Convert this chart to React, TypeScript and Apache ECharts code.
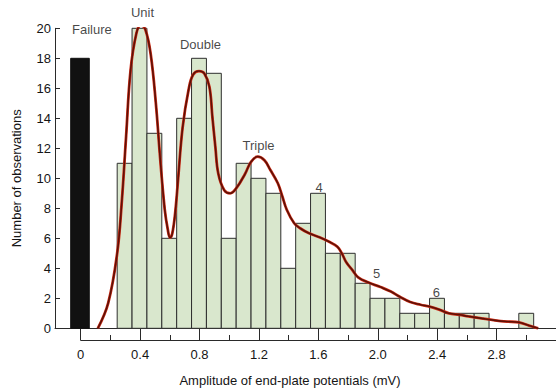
import React, { useEffect, useRef } from "react";
import * as echarts from "echarts";

// Histogram bins (centre of each 0.1 mV bin) and counts
const BIN_CENTERS = [
  0.3, 0.4, 0.5, 0.6, 0.7, 0.8, 0.9, 1.0, 1.1, 1.2, 1.3, 1.4, 1.5, 1.6,
  1.7, 1.8, 1.9, 2.0, 2.1, 2.2, 2.3, 2.4, 2.5, 2.6, 2.7, 2.8, 2.9, 3.0,
];
const BIN_COUNTS = [
  11, 20, 13, 6, 14, 18, 17, 6, 11, 10, 9, 4, 7, 9,
  5, 5, 3, 2, 2, 1, 1, 2, 1, 1, 1, 0, 0, 1,
];
const BIN_WIDTH = 0.1;

// Failures (no response)
const FAILURE_X = [0];
const FAILURE_COUNT = [18];
const FAILURE_WIDTH = 0.125;

// Fitted curve
const CURVE_X = [
  0.12, 0.19, 0.25, 0.28, 0.31, 0.34, 0.38, 0.41, 0.44, 0.475, 0.51, 0.54,
  0.57, 0.59, 0.605, 0.62, 0.64, 0.66, 0.69, 0.73, 0.76, 0.8, 0.835, 0.87, 0.89,
  0.91, 0.93, 0.97, 1.01, 1.05, 1.11, 1.15, 1.195, 1.24, 1.28, 1.33, 1.36,
  1.39, 1.44, 1.48, 1.54, 1.61, 1.675, 1.73, 1.76, 1.79, 1.83, 1.87, 1.94,
  2.02, 2.09, 2.15, 2.22, 2.29, 2.35, 2.42, 2.48, 2.55, 2.61, 2.7, 2.79,
  2.87, 2.95, 3.02, 3.08,
];
const CURVE_Y = [
  0, 1.7, 5.0, 8.3, 12.8, 17.2, 19.7, 20.2, 19.9, 18.3, 15.0, 11.2,
  7.9, 6.6, 6.05, 6.3, 7.7, 10.0, 13.4, 15.9, 16.9, 17.15, 17.0, 16.1, 14.1,
  12.1, 10.3, 9.2, 9.0, 9.33, 10.3, 11.1, 11.45, 11.2, 10.55, 9.67, 8.8,
  7.9, 7.0, 6.67, 6.33, 6.07, 5.77, 5.44, 5.0, 4.4, 3.9, 3.4, 3.05,
  2.75, 2.45, 2.1, 1.75, 1.57, 1.45, 1.23, 1.0, 0.9, 0.8, 0.66, 0.53,
  0.45, 0.4, 0.18, 0,
];

// Peak annotations
const NOTE_TEXT = ["Failure", "Unit", "Double", "Triple", "4", "5", "6"];
const NOTE_X = [0.08, 0.42, 0.81, 1.2, 1.607, 1.994, 2.396];
const NOTE_Y = [19.95, 21.05, 18.9, 12.2, 9.4, 3.63, 2.39];

const Y_MIN = 0;
const Y_MAX = 20;
const Y_STEP = 2;
const X_MAX = 3.2;
const X_MAJOR = 0.4;
const X_MINOR = 0.2;

export default function App() {
  const ref = useRef<HTMLDivElement>(null);

  useEffect(() => {
    if (!ref.current) return;
    const chart = echarts.init(ref.current, null, { renderer: "svg" });
    const font = "'Liberation Sans', Arial, Helvetica, sans-serif";
    const ink = "#151515";
    const axisInk = "#2a2a2a";

    const option: any = {
      animation: false,
      backgroundColor: "#ffffff",
      textStyle: { fontFamily: font, color: ink },
      grid: [
        { left: 55, top: 28.3, right: -13.84, height: 300 },
        { left: 80.7, top: 28.3, right: -13.84, height: 311.7 },
      ],
      xAxis: [
        {
          gridIndex: 0,
          type: "value",
          position: "bottom",
          min: -0.168,
          max: X_MAX,
          axisLine: { show: true, onZero: false, lineStyle: { color: axisInk, width: 1 } },
          axisTick: { show: false },
          axisLabel: { show: false },
          splitLine: { show: false },
        },
        {
          gridIndex: 1,
          type: "value",
          position: "bottom",
          min: 0,
          max: X_MAX,
          interval: X_MAJOR,
          axisLine: { show: true, onZero: false, lineStyle: { color: axisInk, width: 1 } },
          axisTick: { show: true, inside: true, length: 11, lineStyle: { color: axisInk, width: 1 } },
          axisLabel: {
            show: true,
            margin: 8,
            fontSize: 13,
            fontFamily: font,
            color: ink,
            showMaxLabel: false,
            formatter: (v: number) => (v === 0 ? "0" : v.toFixed(1)),
          },
          splitLine: { show: false },
        },
        {
          gridIndex: 1,
          type: "value",
          position: "bottom",
          offset: 0,
          min: 0,
          max: X_MAX,
          interval: X_MINOR,
          axisLine: { show: false, onZero: false },
          axisTick: { show: true, inside: true, length: 5, lineStyle: { color: axisInk, width: 1 } },
          axisLabel: { show: false },
          splitLine: { show: false },
        },
      ],
      yAxis: [
        {
          gridIndex: 0,
          type: "value",
          min: Y_MIN,
          max: Y_MAX,
          interval: Y_STEP,
          name: "Number of observations",
          nameLocation: "middle",
          nameGap: 32,
          nameTextStyle: { fontSize: 13, fontFamily: font, color: ink },
          axisLine: { show: true, onZero: false, lineStyle: { color: axisInk, width: 1 } },
          axisTick: { show: true, inside: true, length: 5, lineStyle: { color: axisInk, width: 1 } },
          axisLabel: { show: true, margin: 4, fontSize: 13, fontFamily: font, color: ink },
          splitLine: { show: false },
        },
        {
          gridIndex: 1,
          type: "value",
          min: Y_MIN,
          max: Y_MAX,
          show: false,
        },
      ],
      graphic: [
        {
          type: "text",
          x: 290,
          y: 380,
          style: {
            text: "Amplitude of end-plate potentials (mV)",
            fontSize: 13,
            fontFamily: font,
            fill: ink,
            textAlign: "center",
            textVerticalAlign: "middle",
          },
        },
      ],
      series: [
        {
          type: "custom",
          name: "Failures",
          xAxisIndex: 0,
          yAxisIndex: 0,
          data: FAILURE_X.map((x, i) => [x, FAILURE_COUNT[i]]),
          encode: { x: 0, y: 1 },
          renderItem: (_p: any, api: any) => {
            const x = api.value(0) as number;
            const v = api.value(1) as number;
            const tl = api.coord([x - FAILURE_WIDTH / 2, v]);
            const br = api.coord([x + FAILURE_WIDTH / 2, 0]);
            return {
              type: "rect",
              shape: { x: tl[0], y: tl[1], width: br[0] - tl[0], height: br[1] - tl[1] },
              style: { fill: "#111111", stroke: "#111111", lineWidth: 1 },
            };
          },
          z: 2,
        },
        {
          type: "custom",
          name: "Observations",
          xAxisIndex: 0,
          yAxisIndex: 0,
          data: BIN_CENTERS.map((x, i) => [x, BIN_COUNTS[i]]),
          encode: { x: 0, y: 1 },
          renderItem: (_p: any, api: any) => {
            const x = api.value(0) as number;
            const v = api.value(1) as number;
            if (!v) return null;
            const tl = api.coord([x - BIN_WIDTH / 2, v]);
            const br = api.coord([x + BIN_WIDTH / 2, 0]);
            return {
              type: "rect",
              shape: { x: tl[0], y: tl[1], width: br[0] - tl[0], height: br[1] - tl[1] },
              style: { fill: "#d9e7cd", stroke: "#2e2e2e", lineWidth: 1 },
            };
          },
          z: 2,
        },
        {
          type: "line",
          name: "fit-under",
          xAxisIndex: 0,
          yAxisIndex: 0,
          data: CURVE_X.map((x, i) => [x, CURVE_Y[i]]),
          showSymbol: false,
          smooth: 0.4,
          lineStyle: { color: "#d0301a", width: 2.8 },
          silent: true,
          z: 3,
        },
        {
          type: "line",
          name: "fit",
          xAxisIndex: 0,
          yAxisIndex: 0,
          data: CURVE_X.map((x, i) => [x, CURVE_Y[i]]),
          showSymbol: false,
          smooth: 0.4,
          lineStyle: { color: "#5e1006", width: 1.6 },
          silent: true,
          z: 4,
        },
        {
          type: "scatter",
          name: "notes",
          xAxisIndex: 0,
          yAxisIndex: 0,
          clip: false,
          symbolSize: 0,
          silent: true,
          data: NOTE_TEXT.map((t, i) => ({ name: t, value: [NOTE_X[i], NOTE_Y[i]] })),
          label: {
            show: true,
            position: "inside",
            formatter: "{b}",
            fontSize: 13,
            fontFamily: font,
            color: ink,
          },
          z: 5,
        },
      ],
    };

    chart.setOption(option);
    return () => chart.dispose();
  }, []);

  return (
    <div
      ref={ref}
      style={{ position: "fixed", left: 0, top: 0, width: 556, height: 389, background: "#fff" }}
    />
  );
}
